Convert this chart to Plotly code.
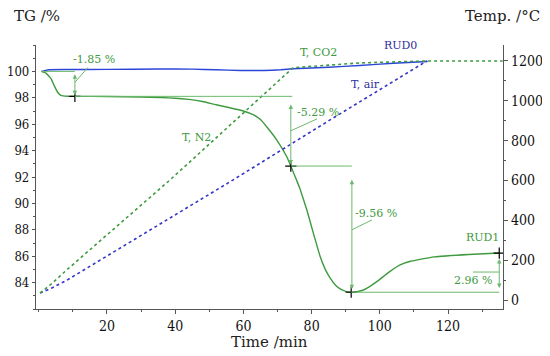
import plotly.graph_objects as go

# ---------------- data ----------------
rud0_t = [0.8, 2, 3, 8, 20, 35, 45, 52, 59, 66, 71, 74.6, 85, 94, 104, 114]
rud0_tg = [100, 100.08, 100.13, 100.14, 100.15, 100.18, 100.17, 100.12, 100.07, 100.07,
           100.12, 100.2, 100.32, 100.45, 100.62, 100.75]

rud1_t = [0.8, 2.1, 3.6, 4.5, 5.5, 6.5, 8.5, 10.6, 20, 30, 36, 40, 44, 48, 52, 56, 60,
          63, 65, 67, 69.8, 72.8, 73.9, 75.6, 76.6, 78.6, 80.5, 82.5, 84, 85.4, 87,
          88.5, 90, 91.6, 93, 95, 97, 99, 101, 103, 105, 107, 109, 111, 116, 126, 135]
rud1_tg = [100, 99.87, 99.45, 98.94, 98.44, 98.19, 98.12, 98.11, 98.1, 98.06, 98.02,
           97.97, 97.88, 97.72, 97.47, 97.25, 97.0, 96.7, 96.35, 95.75, 94.8, 93.5, 92.83,
           91.75, 91.1, 89.5, 87.75, 85.98, 85.0, 84.35, 83.8, 83.5, 83.33, 83.27, 83.3,
           83.42, 83.7, 84.05, 84.45, 84.85, 85.2, 85.45, 85.62, 85.72, 85.95, 86.13, 86.24]

tco2_t = [0.4, 4, 8.2, 38.5, 70.7, 74.6, 94, 114, 136]
tco2_temp = [35, 85, 151, 603, 1106, 1166, 1190, 1200, 1200]

tair_t = [0.4, 4, 8.3, 20, 57, 85.4, 113.8]
tair_temp = [35, 62, 100, 220, 603, 904, 1200]

# step points (time, TG) and step values
step_t = [10.6, 73.9, 91.6, 135]
step_tg = [98.11, 92.83, 83.27, 86.24]
step_labels = ["-1.85 %", "-5.29 %", "-9.56 %", "2.96 %"]

x_ticks = [20, 40, 60, 80, 100, 120]
y_ticks = [84, 86, 88, 90, 92, 94, 96, 98, 100]
y2_ticks = [0, 200, 400, 600, 800, 1000, 1200]

# ---------------- style ----------------
GREEN = "#3e9a3e"
GREEN_L = "#6cb86c"
BLUE = "#2b45d8"
BLUE_D = "#3535c8"
BLUE_T = "#2e2ea0"
FONT = "DejaVu Serif, serif"
TICKFONT = "DejaVu Serif Condensed, DejaVu Serif, serif"

fig = go.Figure()

fig.add_trace(go.Scatter(x=tair_t, y=tair_temp, yaxis="y2", mode="lines",
                         line=dict(color=BLUE_D, width=1.6, dash="dot")))
fig.add_trace(go.Scatter(x=tco2_t, y=tco2_temp, yaxis="y2", mode="lines",
                         line=dict(color=GREEN, width=1.6, dash="dot")))
fig.add_trace(go.Scatter(x=rud0_t, y=rud0_tg, mode="lines",
                         line=dict(color=BLUE, width=1.4, shape="spline", smoothing=0.3)))
fig.add_trace(go.Scatter(x=rud1_t, y=rud1_tg, mode="lines",
                         line=dict(color=GREEN, width=1.4, shape="spline", smoothing=0.3)))

# reference horizontal lines
ref_lines = [
    (rud1_t[0], step_t[0], 100.0),
    (step_t[0], 74.3, step_tg[0]),
    (step_t[1], 91.8, step_tg[1]),
    (step_t[2], step_t[3], step_tg[2]),
]
for x0, x1, yv in ref_lines:
    fig.add_shape(type="line", x0=x0, x1=x1, y0=yv, y1=yv, xref="x", yref="y",
                  line=dict(color=GREEN_L, width=1))

# double arrows
arrows = [
    (step_t[0], 99.9, 98.2),
    (step_t[1], 97.6, 92.95),
    (91.8, 91.9, 83.5),
    (step_t[3], 85.9, 83.6),
]
for xv, ytop, ybot in arrows:
    fig.add_annotation(x=xv, y=ybot, ax=xv, ay=ytop, xref="x", yref="y",
                       axref="x", ayref="y", text="", showarrow=True,
                       arrowhead=2, startarrowhead=2, arrowside="end+start",
                       arrowsize=0.9, startarrowsize=0.9, arrowwidth=1,
                       arrowcolor=GREEN_L)

# leader lines
leaders = [
    (10.6, 99.17, 14.4, 100.3),
    (73.9, 95.5, 81.6, 96.4),
    (91.8, 88.0, 97.7, 88.75),
    (127.3, 84.8, 135, 84.8),
]
for x0, y0, x1, y1 in leaders:
    fig.add_shape(type="line", x0=x0, x1=x1, y0=y0, y1=y1, xref="x", yref="y",
                  line=dict(color=GREEN_L, width=1))

# step labels
label_pos = [(16.2, 100.9), (81.9, 96.9), (99.0, 89.25), (127.3, 84.15)]
for (xv, yv), txt in zip(label_pos, step_labels):
    fig.add_annotation(x=xv, y=yv, xref="x", yref="y", text=txt, showarrow=False,
                       font=dict(family=FONT, size=11, color=GREEN))

# crosses at step points
fig.add_trace(go.Scatter(x=step_t, y=step_tg, mode="markers",
                         marker=dict(symbol="cross-thin", size=8,
                                     line=dict(color="black", width=1.2))))

# curve labels
curve_labels = [
    ("T, CO2", 82.0, 101.43, GREEN),
    ("RUD0", 106.0, 102.0, BLUE_T),
    ("T, air", 95.9, 99.02, BLUE_T),
    ("T, N2", 46.3, 95.0, GREEN),
    ("RUD1", 130.0, 87.4, GREEN),
]
for txt, xv, yv, col in curve_labels:
    fig.add_annotation(x=xv, y=yv, xref="x", yref="y", text=txt, showarrow=False,
                       font=dict(family=FONT, size=11, color=col))

# axis titles
fig.add_annotation(x=-0.052, y=1.108, xref="paper", yref="paper", text="TG /%",
                   showarrow=False, xanchor="left", yanchor="middle",
                   font=dict(family=FONT, size=15, color="#222"))
fig.add_annotation(x=1.084, y=1.108, xref="paper", yref="paper", text="Temp. /°C",
                   showarrow=False, xanchor="right", yanchor="middle",
                   font=dict(family=FONT, size=15, color="#222"))
fig.add_annotation(x=0.5, y=-0.125, xref="paper", yref="paper", text="Time /min",
                   showarrow=False, xanchor="center", yanchor="middle",
                   font=dict(family=FONT, size=15, color="#222"))

axis_common = dict(showgrid=False, zeroline=False, showline=True, linecolor="#555",
                   linewidth=1.2, tickcolor="#555", ticks="outside", automargin=False)

# page body has an 8px margin: offset the figure margins accordingly
fig.update_layout(
    width=542, height=348,
    margin=dict(l=28, r=47, t=37, b=47),
    paper_bgcolor="white", plot_bgcolor="white",
    showlegend=False,
    font=dict(family=FONT),
    xaxis=dict(range=[-0.8, 136.1], tickvals=x_ticks, ticklen=4,
               tickfont=dict(family=TICKFONT, size=14, color="#111"),
               minor=dict(dtick=10, tick0=0, ticks="outside", ticklen=2, tickcolor="#555"),
               **axis_common),
    yaxis=dict(range=[82, 102], tickvals=y_ticks, ticklen=3,
               tickfont=dict(family=TICKFONT, size=13, color="#111"),
               minor=dict(dtick=1, tick0=0, ticks="outside", ticklen=2, tickcolor="#555"),
               **axis_common),
    yaxis2=dict(range=[-45, 1280], tickvals=y2_ticks, overlaying="y", side="right",
                ticklen=4,
                tickfont=dict(family=TICKFONT, size=14, color="#111"),
                minor=dict(dtick=100, tick0=0, ticks="outside", ticklen=2, tickcolor="#555"),
                **axis_common),
)

fig.write_html("out.html")
